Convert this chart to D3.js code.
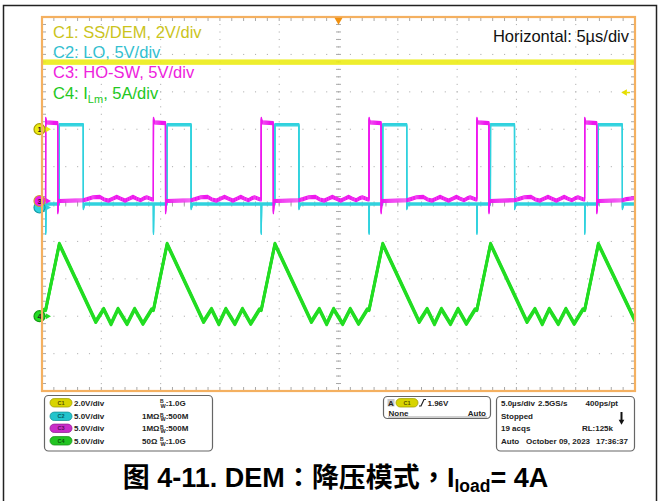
<!DOCTYPE html>
<html><head><meta charset="utf-8">
<script src="https://cdn.jsdelivr.net/npm/d3@7"></script>
<style>body{margin:0;background:#fff}svg{display:block}</style>
</head><body><svg id="c" width="660" height="501"></svg>
<script>
// ---------- data ----------
const chNames = ["C1", "C2", "C3", "C4"];
const chTitles = [["C1: SS/DEM, 2V/div"], ["C2: LO, 5V/div"], ["C3: HO-SW, 5V/div"], ["C4: I", "Lm", ", 5A/div"]];
const chUnitsPerDiv = [2, 5, 5, 5];
const chGroundDiv = [2, 0, 0.08, -3];
const horizontalLabel = "Horizontal: 5µs/div";
const timePerDiv = 5; // µs
const timeSpan = [-25, 25];
const divSpan = [-5, 5];

// C1 SS/DEM (V)
const ssDem = [[-25, 3.59], [25, 3.59]];
// C2 LO (V)
const lo = [[-25, 0],
  [-24.70, 0], [-24.69, -3.9], [-24.66, 0], [-23.55, 0], [-23.54, 10.6], [-21.52, 10.6], [-21.51, -0.6], [-21.40, 0],
  [-15.61, 0], [-15.60, -3.9], [-15.57, 0], [-14.46, 0], [-14.45, 10.6], [-12.43, 10.6], [-12.42, -0.6], [-12.31, 0],
  [-6.52, 0], [-6.51, -3.9], [-6.48, 0], [-5.37, 0], [-5.36, 10.6], [-3.34, 10.6], [-3.33, -0.6], [-3.22, 0],
  [2.57, 0], [2.58, -3.9], [2.61, 0], [3.72, 0], [3.73, 10.6], [5.75, 10.6], [5.76, -0.6], [5.87, 0],
  [11.66, 0], [11.67, -3.9], [11.70, 0], [12.81, 0], [12.82, 10.6], [14.84, 10.6], [14.85, -0.6], [14.96, 0],
  [20.75, 0], [20.76, -3.9], [20.79, 0], [21.90, 0], [21.91, 10.6], [23.93, 10.6], [23.94, -0.6], [24.05, 0], [25, 0]];
// C3 HO-SW (V)
const hoSw = [[-25, 0.2],
  [-24.70, 0.2], [-24.69, 11.0], [-24.62, 10.5], [-23.68, 10.4], [-23.67, -1.5], [-23.60, 0], [-21.52, 0.1], [-21.19, 0.25], [-20.70, 0.5], [-20.11, 0.55], [-19.75, 0.2], [-19.39, 0.05], [-19.05, 0.3], [-18.70, 0.55], [-18.35, 0.3], [-17.99, 0.05], [-17.66, 0.3], [-17.33, 0.55], [-17.0, 0.3], [-16.69, 0.1], [-16.43, 0.35], [-16.17, 0.5], [-15.69, 0.2],
  [-15.61, 0.2], [-15.60, 11.0], [-15.53, 10.5], [-14.59, 10.4], [-14.58, -1.5], [-14.51, 0], [-12.43, 0.1], [-12.10, 0.25], [-11.61, 0.5], [-11.02, 0.55], [-10.66, 0.2], [-10.30, 0.05], [-9.96, 0.3], [-9.61, 0.55], [-9.26, 0.3], [-8.90, 0.05], [-8.57, 0.3], [-8.24, 0.55], [-7.91, 0.3], [-7.60, 0.1], [-7.34, 0.35], [-7.08, 0.5], [-6.60, 0.2],
  [-6.52, 0.2], [-6.51, 11.0], [-6.44, 10.5], [-5.50, 10.4], [-5.49, -1.5], [-5.42, 0], [-3.34, 0.1], [-3.01, 0.25], [-2.52, 0.5], [-1.93, 0.55], [-1.57, 0.2], [-1.21, 0.05], [-0.87, 0.3], [-0.52, 0.55], [-0.17, 0.3], [0.19, 0.05], [0.52, 0.3], [0.85, 0.55], [1.18, 0.3], [1.49, 0.1], [1.75, 0.35], [2.01, 0.5], [2.49, 0.2],
  [2.57, 0.2], [2.58, 11.0], [2.65, 10.5], [3.59, 10.4], [3.60, -1.5], [3.67, 0], [5.75, 0.1], [6.08, 0.25], [6.57, 0.5], [7.16, 0.55], [7.52, 0.2], [7.88, 0.05], [8.22, 0.3], [8.57, 0.55], [8.92, 0.3], [9.28, 0.05], [9.61, 0.3], [9.94, 0.55], [10.27, 0.3], [10.58, 0.1], [10.84, 0.35], [11.10, 0.5], [11.58, 0.2],
  [11.66, 0.2], [11.67, 11.0], [11.74, 10.5], [12.68, 10.4], [12.69, -1.5], [12.76, 0], [14.84, 0.1], [15.17, 0.25], [15.66, 0.5], [16.25, 0.55], [16.61, 0.2], [16.97, 0.05], [17.31, 0.3], [17.66, 0.55], [18.01, 0.3], [18.37, 0.05], [18.70, 0.3], [19.03, 0.55], [19.36, 0.3], [19.67, 0.1], [19.93, 0.35], [20.19, 0.5], [20.67, 0.2],
  [20.75, 0.2], [20.76, 11.0], [20.83, 10.5], [21.77, 10.4], [21.78, -1.5], [21.85, 0], [23.93, 0.1], [24.26, 0.25], [25, 0.4]];
// C4 I_Lm (A)
const iLm = [[-25, 0.74],
  [-24.69, 0.85], [-23.54, 9.65], [-20.47, -0.74], [-19.80, 0.96], [-19.18, -1.04], [-18.59, 0.96], [-17.83, -1.04], [-17.19, 0.96], [-16.49, -1.0], [-15.75, 0.9],
  [-15.60, 0.85], [-14.45, 9.65], [-11.38, -0.74], [-10.71, 0.96], [-10.09, -1.04], [-9.50, 0.96], [-8.74, -1.04], [-8.10, 0.96], [-7.40, -1.0], [-6.66, 0.9],
  [-6.51, 0.85], [-5.36, 9.65], [-2.29, -0.74], [-1.62, 0.96], [-1.00, -1.04], [-0.41, 0.96], [0.35, -1.04], [0.99, 0.96], [1.69, -1.0], [2.43, 0.9],
  [2.58, 0.85], [3.73, 9.65], [6.80, -0.74], [7.47, 0.96], [8.09, -1.04], [8.68, 0.96], [9.44, -1.04], [10.08, 0.96], [10.78, -1.0], [11.52, 0.9],
  [11.67, 0.85], [12.82, 9.65], [15.89, -0.74], [16.56, 0.96], [17.18, -1.04], [17.77, 0.96], [18.53, -1.04], [19.17, 0.96], [19.87, -1.0], [20.61, 0.9],
  [20.76, 0.85], [21.91, 9.65], [25, -0.6]];
const triggerLevel = 1.96; // V on C1

// info panel
const vScaleLabels = ["2.0V/div", "5.0V/div", "5.0V/div", "5.0V/div"];
const impedanceLabels = ["", "1MΩ", "1MΩ", "50Ω"];
const bandwidthLabels = ["1.0G", "500M", "500M", "1.0G"];
const triggerTexts = ["A", "C1", "1.96V", "None", "Auto"];
const acqRow1 = ["5.0µs/div", "2.5GS/s", "400ps/pt"];
const acqRow2 = ["Stopped"];
const acqRow3 = ["19 acqs", "RL:125k"];
const acqRow4 = ["Auto", "October 09, 2023", "17:36:37"];
// caption segments: [text, kind]  kind: n = normal, p = CJK punctuation, s = subscript
const captionParts = [["图 4-11. DEM", "n"], ["：", "p"], ["降压模式", "n"], ["，", "p"], ["I", "n"], ["load", "s"], ["= 4A", "n"]];

// ---------- styles ----------
const traceColor = ["#ecec10", "#30d2de", "#ee18ee", "#22dd22"];
const textColor = ["#cbc41c", "#33c0cf", "#ee22dd", "#22c822"];
const badgeFill = ["#d8d400", "#22c4cc", "#c82cc8", "#22c422"];
const badgeText = ["#555000", "#035a60", "#5a0a5a", "#0a5a0a"];
const markerStroke = ["#a89c00", "#119aa6", "#c8a030", "#119911"];
const FONT = "'Liberation Sans', Arial, sans-serif";

const svg = d3.select("#c");
const x = d3.scaleLinear().domain(timeSpan).range([42, 635]);
const y = d3.scaleLinear().domain(divSpan).range([391, 17]);
const [X0, X1] = x.range(), [Y1, Y0] = y.range();

// outer frame
svg.append("rect").attr("x", 3.5).attr("y", 5.5).attr("width", 653).attr("height", 600)
  .attr("fill", "none").attr("stroke", "#222").attr("stroke-width", 1.5);

// ---------- graticule ----------
const grid = svg.append("g");
const majorT = d3.range(timeSpan[0], timeSpan[1] + 0.001, timePerDiv);
const majorD = d3.range(divSpan[0], divSpan[1] + 0.001, 1);
const minorT = d3.range(timeSpan[0], timeSpan[1] + 0.001, timePerDiv / 5);
const minorD = d3.range(divSpan[0], divSpan[1] + 0.001, 0.2);
const dotCol = "#b4b4b4";
majorD.slice(1, -1).forEach(d => {
  grid.selectAll(null).data(minorT.slice(1, -1)).enter().append("rect")
    .attr("x", t => x(t) - 0.5).attr("y", y(d) - 0.5).attr("width", 1.1).attr("height", 1.1).attr("fill", dotCol);
});
majorT.slice(1, -1).forEach(t => {
  grid.selectAll(null).data(minorD.slice(1, -1)).enter().append("rect")
    .attr("x", x(t) - 0.5).attr("y", d => y(d) - 0.5).attr("width", 1.1).attr("height", 1.1).attr("fill", dotCol);
});
const tickCol = "#a8a8a8";
minorT.slice(1, -1).forEach(t => {
  grid.append("line").attr("x1", x(t)).attr("x2", x(t)).attr("y1", Y0).attr("y2", Y0 + 4).attr("stroke", tickCol);
  grid.append("line").attr("x1", x(t)).attr("x2", x(t)).attr("y1", Y1).attr("y2", Y1 - 4).attr("stroke", tickCol);
  grid.append("line").attr("x1", x(t)).attr("x2", x(t)).attr("y1", y(0) - 2.5).attr("y2", y(0) + 2.5).attr("stroke", tickCol);
});
minorD.slice(1, -1).forEach(d => {
  grid.append("line").attr("x1", X0).attr("x2", X0 + 4).attr("y1", y(d)).attr("y2", y(d)).attr("stroke", tickCol);
  grid.append("line").attr("x1", X1).attr("x2", X1 - 4).attr("y1", y(d)).attr("y2", y(d)).attr("stroke", tickCol);
  grid.append("line").attr("x1", x(0) - 2.5).attr("x2", x(0) + 2.5).attr("y1", y(d)).attr("y2", y(d)).attr("stroke", tickCol);
});

// ---------- in-plot labels ----------
const labelBase = [38, 58, 78, 99];
chTitles.forEach((parts, i) => {
  const t = svg.append("text").attr("x", 53).attr("y", labelBase[i]).attr("font-family", FONT)
    .attr("font-size", 16.5).attr("fill", textColor[i]);
  t.append("tspan").text(parts[0]);
  if (parts.length > 1) {
    t.append("tspan").attr("font-size", 11).attr("dy", 3.5).text(parts[1]);
    t.append("tspan").attr("dy", -3.5).text(parts[2]);
  }
});
svg.append("text").attr("x", 629).attr("y", 41.5).attr("text-anchor", "end").attr("font-family", FONT)
  .attr("font-size", 16.5).attr("fill", "#111").text(horizontalLabel);

// ---------- traces ----------
svg.append("clipPath").attr("id", "pc").append("rect").attr("x", X0).attr("y", Y0).attr("width", X1 - X0).attr("height", Y1 - Y0);
const tg = svg.append("g").attr("clip-path", "url(#pc)");
function drawTrace(data, ch, width, offsets, opacity) {
  const line = d3.line().x(d => x(d[0])).y(d => y(chGroundDiv[ch] + d[1] / chUnitsPerDiv[ch]));
  offsets.forEach(o => {
    tg.append("path").attr("d", line(data)).attr("transform", `translate(0,${o})`)
      .attr("fill", "none").attr("stroke", traceColor[ch]).attr("stroke-width", width)
      .attr("stroke-linejoin", "round").attr("opacity", opacity);
  });
}
drawTrace(ssDem, 0, 1.3, [-2, -1, 0, 1, 2], 1);
drawTrace(lo, 1, 1.2, [-1.2, -0.4, 0.4, 1.2], 1);
drawTrace(hoSw, 2, 1.2, [-1.5, -0.5, 0.5, 1.5], 1);
drawTrace(iLm, 3, 2.8, [-0.9, 0, 0.9], 1);

// ---------- channel markers ----------
const markerX = 39.5;
function marker(ch, label, dy) {
  const cy = y(chGroundDiv[ch]) + dy;
  svg.append("path").attr("d", d3.symbol().type(d3.symbolTriangle).size(16)())
    .attr("transform", `translate(${markerX + 8},${cy}) rotate(90)`).attr("fill", traceColor[ch]);
  svg.append("line").attr("x1", markerX + 4).attr("x2", markerX + 7).attr("y1", cy).attr("y2", cy)
    .attr("stroke", traceColor[ch]).attr("stroke-width", 1.5);
  svg.append("circle").attr("cx", markerX).attr("cy", cy).attr("r", 5.5)
    .attr("fill", traceColor[ch]).attr("stroke", markerStroke[ch]).attr("stroke-width", 1.2);
  if (label) svg.append("text").attr("x", markerX).attr("y", cy + 2.6).attr("text-anchor", "middle")
    .attr("font-family", FONT).attr("font-size", 7.5).attr("font-weight", "bold").attr("fill", "#222").text(label);
}
marker(1, "", 3.5);
marker(0, "1", 0);
marker(2, "3", 0);
marker(3, "4", 0);

// frame
svg.append("rect").attr("x", X0).attr("y", Y0).attr("width", X1 - X0).attr("height", Y1 - Y0)
  .attr("fill", "none").attr("stroke", "#f4b060").attr("stroke-width", 2.2);
svg.append("path").attr("d", d3.symbol().type(d3.symbolTriangle).size(28)())
  .attr("transform", `translate(${x(0)},${Y0 + 3}) rotate(180)`).attr("fill", "#f09010");
const trigY = y(chGroundDiv[0] + triggerLevel / chUnitsPerDiv[0]);
svg.append("path").attr("d", d3.symbol().type(d3.symbolTriangle).size(18)())
  .attr("transform", `translate(${X1 - 10},${trigY}) rotate(-90)`).attr("fill", "#e6de00");
svg.append("line").attr("x1", X1 - 8).attr("x2", X1 - 5).attr("y1", trigY).attr("y2", trigY).attr("stroke", "#e6de00").attr("stroke-width", 1.5);

// ---------- info panel ----------
const rowBase = [405.5, 419, 431, 443.5];
const small = (sel) => sel.attr("font-family", FONT).attr("font-size", 8).attr("font-weight", "bold").attr("fill", "#222");
function badge(cx, cy, i) {
  svg.append("rect").attr("x", cx - 11).attr("y", cy - 4.2).attr("width", 22).attr("height", 8.4).attr("rx", 4.2)
    .attr("fill", badgeFill[i]).attr("stroke", d3.color(badgeFill[i]).darker(0.8)).attr("stroke-width", 0.8);
  svg.append("text").attr("x", cx).attr("y", cy + 2.1).attr("text-anchor", "middle").attr("font-family", FONT)
    .attr("font-size", 5.5).attr("font-weight", "bold").attr("fill", badgeText[i]).text(chNames[i]);
}
svg.append("rect").attr("x", 44.5).attr("y", 395.5).attr("width", 168).attr("height", 55.5).attr("rx", 4)
  .attr("fill", "#fff").attr("stroke", "#666").attr("stroke-width", 1.2);
vScaleLabels.forEach((lab, i) => {
  badge(61, rowBase[i] - 2.7, i);
  small(svg.append("text").attr("x", 74).attr("y", rowBase[i])).text(lab);
  if (impedanceLabels[i]) small(svg.append("text").attr("x", 142).attr("y", rowBase[i])).text(impedanceLabels[i]);
  const t = small(svg.append("text").attr("x", 160).attr("y", rowBase[i]));
  t.append("tspan").attr("font-size", 5).attr("dy", -2.5).text("B");
  t.append("tspan").attr("font-size", 5.5).attr("dx", -3.2).attr("dy", 4.5).text("W");
  t.append("tspan").attr("dy", -2).text(":" + bandwidthLabels[i]);
});
svg.append("rect").attr("x", 383.5).attr("y", 396.5).attr("width", 107).attr("height", 22).attr("rx", 4)
  .attr("fill", "#fff").attr("stroke", "#666").attr("stroke-width", 1.2);
svg.append("rect").attr("x", 387.5).attr("y", 399).attr("width", 7).attr("height", 7.5).attr("fill", "#c8c8c8");
small(svg.append("text").attr("x", 391).attr("y", 405.5).attr("text-anchor", "middle").attr("font-size", 7)).text(triggerTexts[0]);
badge(407, rowBase[0] - 2.7, 0);
svg.append("path").attr("d", "M419,406 L421,406 L424,399.5 L426,399.5").attr("fill", "none").attr("stroke", "#222").attr("stroke-width", 1.2);
small(svg.append("text").attr("x", 427.5).attr("y", rowBase[0])).text(triggerTexts[2]);
small(svg.append("text").attr("x", 388.5).attr("y", 415.5)).text(triggerTexts[3]);
small(svg.append("text").attr("x", 486).attr("y", 415.5).attr("text-anchor", "end")).text(triggerTexts[4]);
svg.append("line").attr("x1", 388).attr("x2", 487).attr("y1", 417).attr("y2", 417).attr("stroke", "#888").attr("stroke-width", 0.8);
svg.append("rect").attr("x", 496.5).attr("y", 396.5).attr("width", 138).attr("height", 54.5).attr("rx", 4)
  .attr("fill", "#fff").attr("stroke", "#666").attr("stroke-width", 1.2);
small(svg.append("text").attr("x", 501).attr("y", rowBase[0])).text(acqRow1[0]);
small(svg.append("text").attr("x", 538).attr("y", rowBase[0])).text(acqRow1[1]);
small(svg.append("text").attr("x", 618).attr("y", rowBase[0]).attr("text-anchor", "end")).text(acqRow1[2]);
small(svg.append("text").attr("x", 501).attr("y", rowBase[1] - 0.5)).text(acqRow2[0]);
svg.append("line").attr("x1", 621.5).attr("x2", 621.5).attr("y1", 412).attr("y2", 420).attr("stroke", "#111").attr("stroke-width", 2);
svg.append("path").attr("d", d3.symbol().type(d3.symbolTriangle).size(14)()).attr("transform", "translate(621.5,421.5) rotate(180)").attr("fill", "#111");
small(svg.append("text").attr("x", 501).attr("y", rowBase[2])).text(acqRow3[0]);
small(svg.append("text").attr("x", 613).attr("y", rowBase[2]).attr("text-anchor", "end")).text(acqRow3[1]);
small(svg.append("text").attr("x", 501).attr("y", rowBase[3])).text(acqRow4[0]);
small(svg.append("text").attr("x", 526).attr("y", rowBase[3])).text(acqRow4[1]);
small(svg.append("text").attr("x", 628).attr("y", rowBase[3]).attr("text-anchor", "end")).text(acqRow4[2]);

// ---------- caption ----------
const cap = svg.append("text").attr("x", 335.5).attr("y", 487).attr("text-anchor", "middle")
  .attr("font-family", "'Liberation Sans', Arial, 'Noto Sans CJK SC', sans-serif").attr("font-weight", "bold")
  .attr("font-size", 27).attr("fill", "#000");
let prevSub = false;
captionParts.forEach(([txt, kind]) => {
  const ts = cap.append("tspan").text(txt);
  if (kind === "p") ts.attr("font-family", "'Noto Sans CJK TC', 'Noto Sans CJK SC', sans-serif");
  if (kind === "s") { ts.attr("font-size", 17.5).attr("dy", 5); prevSub = true; }
  else if (prevSub) { ts.attr("dy", -5); prevSub = false; }
});
</script></body></html>
